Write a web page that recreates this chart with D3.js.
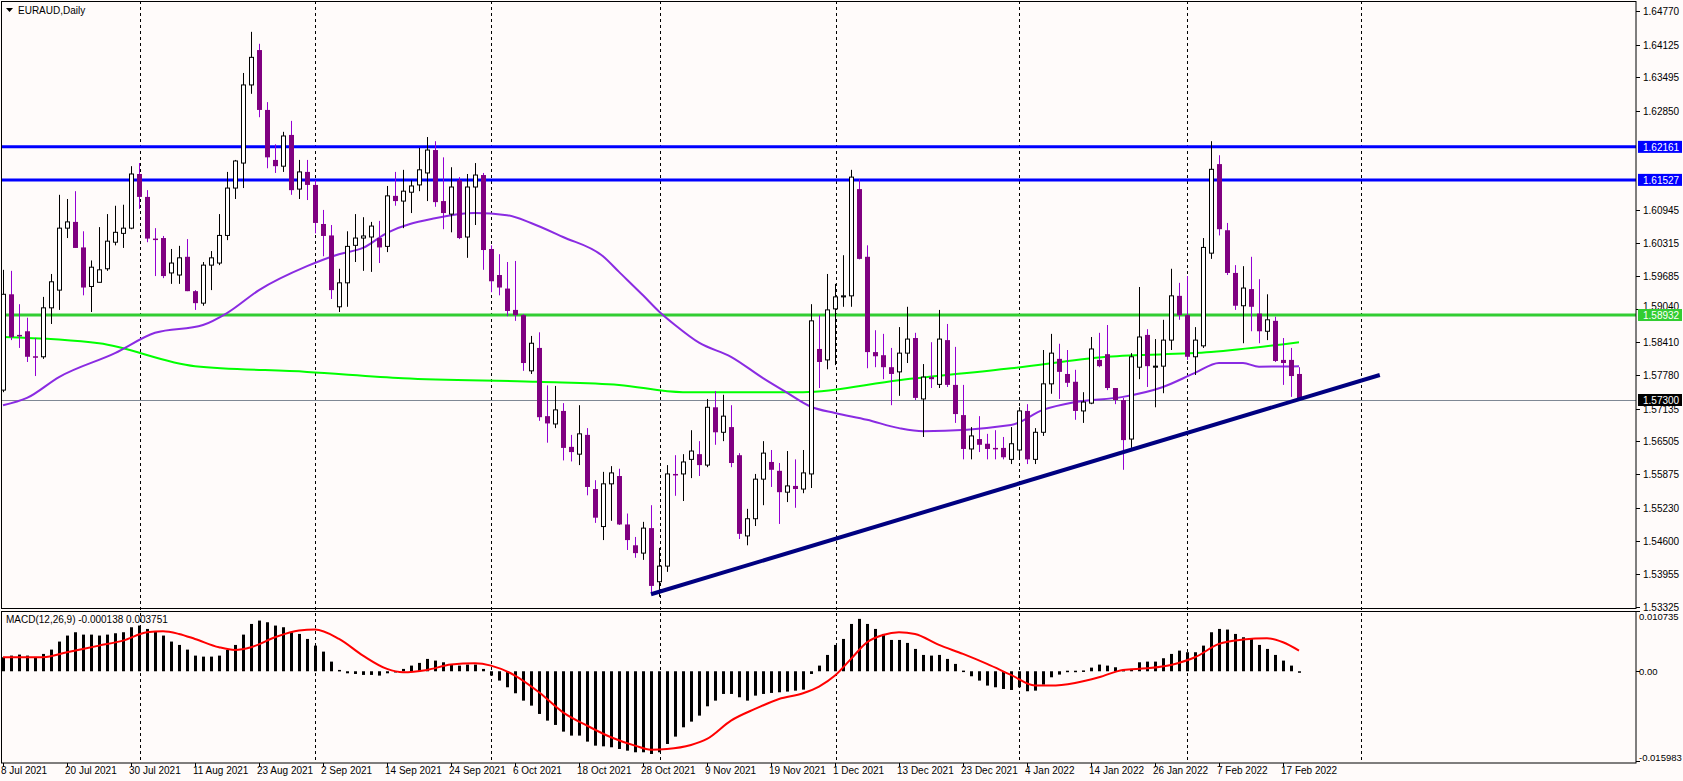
<!DOCTYPE html>
<html><head><meta charset="utf-8">
<script src="https://cdn.jsdelivr.net/npm/d3@7/dist/d3.min.js"></script>
<style>body{margin:0;background:#fff;}svg{display:block;font-family:"Liberation Sans",Arial,sans-serif;}</style>
</head><body><svg id="c" width="1683" height="781"></svg>
<script>
// ---------- DATA ----------
const opens=[1.5749,1.5933,1.5855,1.5862,1.5814,1.5813,1.5907,1.5941,1.6060,1.6072,1.6023,1.5948,1.5956,1.5982,1.6033,1.6050,1.6060,1.6164,1.6120,1.6040,1.6041,1.5974,1.5970,1.6005,1.5939,1.5916,1.5989,1.5993,1.6046,1.6137,1.6185,1.6335,1.6402,1.6287,1.6191,1.6179,1.6239,1.6135,1.6168,1.6143,1.6068,1.6046,1.5909,1.5955,1.6027,1.6041,1.6043,1.6041,1.6025,1.6122,1.6112,1.6129,1.6143,1.6166,1.6210,1.6112,1.6087,1.6152,1.6043,1.6139,1.6162,1.6020,1.5970,1.5944,1.5903,1.5893,1.5786,1.5830,1.5699,1.5684,1.5709,1.5640,1.5626,1.5663,1.5559,1.5487,1.5569,1.5584,1.5491,1.5451,1.5436,1.5484,1.5381,1.5411,1.5588,1.5588,1.5616,1.5626,1.5605,1.5716,1.5668,1.5678,1.5624,1.5469,1.5502,1.5578,1.5611,1.5594,1.5553,1.5565,1.5559,1.5588,1.5828,1.5807,1.5905,1.5928,1.5930,1.6135,1.6005,1.5822,1.5816,1.5793,1.5784,1.5820,1.5849,1.5732,1.5774,1.5760,1.5845,1.5759,1.5701,1.5636,1.5655,1.5646,1.5638,1.5638,1.5616,1.5634,1.5709,1.5616,1.5668,1.5761,1.5809,1.5780,1.5765,1.5709,1.5724,1.5807,1.5818,1.5753,1.5730,1.5655,1.5793,1.5855,1.5793,1.5795,1.5845,1.5930,1.5893,1.5813,1.5834,1.6012,1.6183,1.6056,1.5974,1.5911,1.5943,1.5896,1.5862,1.5882,1.5807,1.5807,1.5780];
const highs=[1.5980,1.5978,1.5914,1.5888,1.5849,1.5928,1.5972,1.6124,1.6116,1.6131,1.6054,1.5998,1.6062,1.6087,1.6103,1.6105,1.6179,1.6185,1.6133,1.6060,1.6045,1.6020,1.6026,1.6039,1.5941,1.5995,1.6016,1.6087,1.6168,1.6191,1.6358,1.6437,1.6414,1.6302,1.6221,1.6245,1.6266,1.6191,1.6191,1.6152,1.6095,1.6066,1.5982,1.6054,1.6087,1.6081,1.6072,1.6074,1.6141,1.6168,1.6172,1.6152,1.6214,1.6235,1.6227,1.6196,1.6177,1.6158,1.6164,1.6185,1.6166,1.6027,1.6010,1.5995,1.5997,1.5895,1.5853,1.5860,1.5758,1.5757,1.5724,1.5663,1.5720,1.5676,1.5576,1.5592,1.5603,1.5598,1.5512,1.5467,1.5496,1.5528,1.5446,1.5605,1.5624,1.5626,1.5672,1.5651,1.5732,1.5747,1.5740,1.5720,1.5628,1.5521,1.5588,1.5651,1.5634,1.5609,1.5632,1.5616,1.5634,1.5914,1.5893,1.5972,1.5953,1.6008,1.6172,1.6154,1.6027,1.5864,1.5857,1.5830,1.5870,1.5909,1.5859,1.5799,1.5841,1.5903,1.5876,1.5832,1.5759,1.5678,1.5699,1.5665,1.5672,1.5659,1.5678,1.5716,1.5722,1.5676,1.5826,1.5857,1.5838,1.5826,1.5788,1.5745,1.5851,1.5859,1.5874,1.5753,1.5734,1.5820,1.5947,1.5866,1.5847,1.5884,1.5982,1.5955,1.5968,1.5870,1.6041,1.6227,1.6200,1.6070,1.5989,1.5987,1.6005,1.5962,1.5933,1.5890,1.5849,1.5830,1.5793];
const lows=[1.5745,1.5845,1.5830,1.5803,1.5776,1.5809,1.5876,1.5903,1.6041,1.6022,1.5931,1.5899,1.5956,1.5978,1.6027,1.6022,1.6058,1.6097,1.6033,1.5968,1.5964,1.5953,1.5953,1.5939,1.5903,1.5911,1.5941,1.5989,1.6037,1.6116,1.6137,1.6318,1.6273,1.6175,1.6166,1.6168,1.6124,1.6116,1.6114,1.6050,1.6006,1.5924,1.5899,1.5909,1.5995,1.5978,1.5976,1.5993,1.6014,1.6103,1.6060,1.6089,1.6131,1.6112,1.6101,1.6058,1.6052,1.6039,1.6003,1.6066,1.5980,1.5937,1.5931,1.5891,1.5882,1.5786,1.5780,1.5690,1.5648,1.5676,1.5614,1.5612,1.5605,1.5547,1.5494,1.5461,1.5498,1.5490,1.5442,1.5427,1.5423,1.5357,1.5352,1.5400,1.5546,1.5536,1.5580,1.5584,1.5601,1.5644,1.5651,1.5601,1.5463,1.5451,1.5488,1.5528,1.5563,1.5492,1.5534,1.5523,1.5551,1.5561,1.5753,1.5789,1.5797,1.5909,1.5909,1.6000,1.5791,1.5793,1.5770,1.5720,1.5738,1.5801,1.5730,1.5659,1.5753,1.5753,1.5755,1.5686,1.5616,1.5616,1.5630,1.5616,1.5616,1.5616,1.5607,1.5616,1.5607,1.5607,1.5661,1.5742,1.5732,1.5755,1.5692,1.5686,1.5722,1.5793,1.5749,1.5722,1.5596,1.5638,1.5770,1.5755,1.5716,1.5743,1.5826,1.5884,1.5807,1.5778,1.5830,1.6001,1.6046,1.5970,1.5903,1.5839,1.5862,1.5839,1.5845,1.5803,1.5759,1.5736,1.5730];
const closes=[1.5933,1.5851,1.5853,1.5813,1.5813,1.5907,1.5957,1.6060,1.6072,1.6022,1.5946,1.5985,1.5980,1.6035,1.6052,1.6060,1.6164,1.6120,1.6040,1.6039,1.5968,1.5993,1.6003,1.5939,1.5916,1.5989,1.6003,1.6046,1.6137,1.6189,1.6335,1.6388,1.6287,1.6196,1.6179,1.6237,1.6133,1.6168,1.6143,1.6070,1.6045,1.5941,1.5955,1.6025,1.6041,1.6045,1.6064,1.6023,1.6122,1.6112,1.6131,1.6141,1.6172,1.6210,1.6110,1.6089,1.6139,1.6041,1.6139,1.6162,1.6018,1.5958,1.5946,1.5901,1.5893,1.5801,1.5839,1.5697,1.5685,1.5711,1.5638,1.5630,1.5665,1.5563,1.5504,1.5569,1.5590,1.5491,1.5461,1.5436,1.5484,1.5373,1.5411,1.5588,1.5587,1.5611,1.5632,1.5605,1.5716,1.5668,1.5699,1.5609,1.5473,1.5502,1.5578,1.5628,1.5596,1.5553,1.5565,1.5559,1.5590,1.5882,1.5803,1.5903,1.5928,1.5930,1.6158,1.6001,1.5822,1.5814,1.5793,1.5780,1.5820,1.5847,1.5734,1.5774,1.5770,1.5847,1.5759,1.5703,1.5636,1.5661,1.5644,1.5636,1.5637,1.5620,1.5646,1.5709,1.5616,1.5668,1.5761,1.5820,1.5784,1.5763,1.5709,1.5726,1.5828,1.5795,1.5753,1.5730,1.5653,1.5813,1.5851,1.5795,1.5795,1.5845,1.5930,1.5893,1.5813,1.5845,1.6023,1.6173,1.6058,1.5974,1.5911,1.5945,1.5909,1.5862,1.5884,1.5805,1.5801,1.5776,1.5730];
const maFastBars=[0,3,7,14,19,25,28,32,38,42,45,48,54,59,63,66,70,75,77,80,82,84,87,91,95,98,101,104,108,112,115,126,130,134,140,145,149,152,155,157,162];
const maFastVals=[1.5720,1.5734,1.5774,1.5820,1.5859,1.5874,1.5897,1.5941,1.5987,1.6010,1.6022,1.6051,1.6079,1.6089,1.6085,1.6070,1.6043,1.6006,1.5976,1.5931,1.5900,1.5874,1.5840,1.5813,1.5772,1.5744,1.5717,1.5705,1.5692,1.5676,1.5670,1.5682,1.5711,1.5726,1.5736,1.5755,1.5782,1.5801,1.5801,1.5794,1.5795];
const maSlowBars=[0,12,24,38,50,67,77,85,100,112,126,138,151,162];
const maSlowVals=[1.5851,1.5839,1.5795,1.5784,1.5772,1.5765,1.5759,1.5745,1.5745,1.5768,1.5791,1.5813,1.5822,1.5841];
const macdHist=[2.49,2.79,2.97,2.79,2.49,3.09,3.86,5.29,6.36,6.95,6.53,6.53,6.36,6.53,6.77,6.95,7.84,8.14,7.54,7.07,6.36,5.29,4.69,3.86,2.79,2.61,2.61,2.79,3.80,4.69,6.53,8.43,9.03,8.73,8.14,7.84,6.95,6.65,5.76,4.57,3.50,1.72,0.24,-0.36,-0.48,-0.65,-0.65,-0.77,-0.36,0.05,0.42,1.01,1.49,2.20,1.90,1.60,1.13,1.01,1.19,1.19,0.42,-0.77,-1.66,-2.85,-3.92,-5.23,-6.12,-7.60,-8.79,-9.56,-10.75,-11.46,-11.46,-12.53,-13.25,-13.37,-13.54,-13.84,-14.14,-14.43,-14.43,-14.73,-14.43,-12.95,-11.64,-9.98,-8.97,-7.90,-6.24,-5.23,-4.04,-4.04,-4.63,-5.23,-4.34,-4.04,-3.86,-3.74,-3.62,-3.45,-3.27,-0.48,1.01,2.91,4.69,5.76,8.43,9.33,8.43,7.54,6.65,5.58,5.58,5.05,3.98,2.91,2.79,2.91,2.20,1.31,0.12,-0.89,-1.66,-2.55,-2.85,-3.15,-3.33,-2.85,-3.56,-3.45,-2.38,-1.07,-0.59,0.10,0.10,0.15,0.65,1.19,1.01,0.71,0.24,0.42,1.60,1.72,1.72,2.32,3.09,3.68,3.39,3.39,4.57,6.95,7.54,7.43,6.65,6.06,5.76,4.69,3.98,2.91,1.90,1.01,-0.14].map(v=>v/1000);
const sigBars=[0,5,8,12,15,18,20,22,24,27,29,31,34,37,39,42,45,48,50,53,56,59,61,64,67,70,73,76,79,81,83,86,88,91,94,97,100,102,104,106,108,110,112,114,117,120,123,126,129,131,134,137,140,143,146,149,152,155,158,160,162];
const sigVals=[2.49,2.49,3.39,4.57,5.46,6.95,7.13,6.65,5.76,4.28,3.80,4.28,6.06,7.25,7.43,5.76,2.79,0.42,-0.18,0.24,1.19,1.43,1.01,-0.77,-3.74,-7.31,-9.68,-11.76,-13.25,-13.96,-13.84,-13.13,-12.06,-8.79,-6.71,-4.93,-3.92,-2.73,-0.77,2.20,5.17,6.47,6.95,6.65,4.69,3.09,1.31,-0.65,-2.55,-2.55,-2.08,-1.07,0.24,0.53,1.13,2.49,4.87,5.64,5.88,5.17,3.68].map(v=>v/1000);
const dateLabels=["8 Jul 2021","20 Jul 2021","30 Jul 2021","11 Aug 2021","23 Aug 2021","2 Sep 2021","14 Sep 2021","24 Sep 2021","6 Oct 2021","18 Oct 2021","28 Oct 2021","9 Nov 2021","19 Nov 2021","1 Dec 2021","13 Dec 2021","23 Dec 2021","4 Jan 2022","14 Jan 2022","26 Jan 2022","7 Feb 2022","17 Feb 2022"];
const gridBars=[17.1,39,61,82.1,104.1,127,148,169.75];
const priceTicks=[1.64770,1.64125,1.63495,1.62850,1.60945,1.60315,1.59685,1.59040,1.58410,1.57780,1.57135,1.56505,1.55875,1.55230,1.54600,1.53955,1.53325];
const resistLevels=[1.62161,1.61527];
const supportLevel=1.58932;
const lastPrice=1.57300;
const trendBars=[81,172.1], trendVals=[1.5357,1.5778];
const macdTop=0.010735, macdBottom=-0.015983;
const macdLast=-0.000138, signalLast=0.003751;

// ---------- DRAW ----------
const svg=d3.select("#c");
const W=1683,R=1636;
const x=d3.scaleLinear().domain([0,162]).range([3,1299]);
const y=d3.scaleLinear().domain([1.53325,1.64770]).range([607,11]);
const ym=d3.scaleLinear().domain([macdBottom,macdTop]).range([761,611]);
svg.append("rect").attr("width",W).attr("height",781).attr("fill","#fffbfa");
const defs=svg.append("defs");
defs.append("clipPath").attr("id","cm").append("rect").attr("x",1).attr("y",1).attr("width",R-1).attr("height",607);
defs.append("clipPath").attr("id","cd").append("rect").attr("x",1).attr("y",611).attr("width",R-1).attr("height",151);
gridBars.forEach(b=>{
  svg.append("line").attr("x1",Math.round(x(b))+0.5).attr("x2",Math.round(x(b))+0.5).attr("y1",1).attr("y2",763)
   .attr("stroke","#000").attr("stroke-dasharray","3,3").attr("stroke-width",1);
});
const gm=svg.append("g").attr("clip-path","url(#cm)");
gm.append("line").attr("x1",0).attr("x2",R).attr("y1",Math.round(y(lastPrice))+0.5).attr("y2",Math.round(y(lastPrice))+0.5).attr("stroke","#7f8894").attr("stroke-width",1);
resistLevels.forEach(v=>gm.append("line").attr("x1",0).attr("x2",R).attr("y1",y(v)).attr("y2",y(v)).attr("stroke","#0000ff").attr("stroke-width",3));
gm.append("line").attr("x1",0).attr("x2",R).attr("y1",y(supportLevel)).attr("y2",y(supportLevel)).attr("stroke","#32cd32").attr("stroke-width",3);
const lineMA=d3.line().x(d=>x(d[0])).y(d=>y(d[1])).curve(d3.curveMonotoneX);
gm.append("path").attr("d",lineMA(maSlowBars.map((b,i)=>[b,maSlowVals[i]]))).attr("fill","none").attr("stroke","#00ff00").attr("stroke-width",2);
gm.append("path").attr("d",lineMA(maFastBars.map((b,i)=>[b,maFastVals[i]]))).attr("fill","none").attr("stroke","#8a2be2").attr("stroke-width",2);
closes.forEach((c,i)=>{
  const o=opens[i],h=highs[i],l=lows[i],bull=c>=o;
  const cx=Math.round(x(i))+0.5;
  gm.append("line").attr("x1",cx).attr("x2",cx).attr("y1",y(h)).attr("y2",y(l)).attr("stroke",bull?"#000":"#9400d3").attr("stroke-width",1);
  const t=y(Math.max(o,c)),b=y(Math.min(o,c));
  if(bull) gm.append("rect").attr("x",cx-2).attr("y",t).attr("width",4).attr("height",Math.max(1,b-t)).attr("fill","#fff").attr("stroke","#000").attr("stroke-width",1);
  else gm.append("rect").attr("x",cx-2.5).attr("y",t).attr("width",5).attr("height",Math.max(1.5,b-t)).attr("fill","#800080");
});
gm.append("line").attr("x1",x(trendBars[0])).attr("y1",y(trendVals[0])).attr("x2",x(trendBars[1])).attr("y2",y(trendVals[1])).attr("stroke","#000080").attr("stroke-width",4);
const gd=svg.append("g").attr("clip-path","url(#cd)");
macdHist.forEach((v,i)=>{
  const cx=Math.round(x(i));
  gd.append("rect").attr("x",cx-1).attr("y",Math.min(ym(v),ym(0))).attr("width",3).attr("height",Math.max(1.5,Math.abs(ym(v)-ym(0)))).attr("fill","#000");
});
gd.append("path").attr("d",d3.line().x(d=>x(d[0])).y(d=>ym(d[1])).curve(d3.curveMonotoneX)(sigBars.map((b,i)=>[b,sigVals[i]])))
  .attr("fill","none").attr("stroke","#ff0000").attr("stroke-width",2);
svg.append("rect").attr("x",1.5).attr("y",1.5).attr("width",R-1.5).attr("height",607).attr("fill","none").attr("stroke","#000");
svg.append("rect").attr("x",1.5).attr("y",611.5).attr("width",R-1.5).attr("height",151.5).attr("fill","none").attr("stroke","#000");
const ax=svg.append("g").attr("font-size","10px").attr("fill","#000");
priceTicks.forEach(v=>{
  ax.append("line").attr("x1",R).attr("x2",R+4).attr("y1",Math.round(y(v))+0.5).attr("y2",Math.round(y(v))+0.5).attr("stroke","#000");
  if(Math.abs(y(v)-y(supportLevel))>8) ax.append("text").attr("x",R+7).attr("y",y(v)+4).text(v.toFixed(5));
  else ax.append("text").attr("x",R+7).attr("y",y(v)+1).text(v.toFixed(5));
});
function tag(v,col){
  const yy=y(v);
  ax.append("rect").attr("x",R+2).attr("y",yy-6).attr("width",44).attr("height",12).attr("fill",col);
  ax.append("text").attr("x",R+7).attr("y",yy+4).attr("fill","#fff").text(v.toFixed(5));
}
resistLevels.forEach(v=>tag(v,"#0000ff"));
tag(supportLevel,"#32cd32");
tag(lastPrice,"#000");
[[macdTop,"0.010735",ym(macdTop)+9],[0,"0.00",ym(0)+4],[macdBottom,"-0.015983",ym(macdBottom)]].forEach(d=>{
  ax.append("line").attr("x1",R).attr("x2",R+4).attr("y1",Math.round(ym(d[0]))+0.5).attr("y2",Math.round(ym(d[0]))+0.5).attr("stroke","#000");
  ax.append("text").attr("x",R+3).attr("y",d[2]).attr("font-size","9.5px").text(d[1]);
});
dateLabels.forEach((t,k)=>{
  const xx=x(8*k);
  ax.append("line").attr("x1",Math.round(xx)+0.5).attr("x2",Math.round(xx)+0.5).attr("y1",763).attr("y2",767).attr("stroke","#000");
  ax.append("text").attr("x",xx-2).attr("y",774).text(t);
});
svg.append("path").attr("d","M6,8 L13,8 L9.5,12 Z").attr("fill","#000");
svg.append("text").attr("x",18).attr("y",14).attr("font-size","10px").text("EURAUD,Daily");
svg.append("text").attr("x",6).attr("y",623).attr("font-size","10px").text(`MACD(12,26,9) ${macdLast.toFixed(6)} ${signalLast.toFixed(6)}`);
</script></body></html>
